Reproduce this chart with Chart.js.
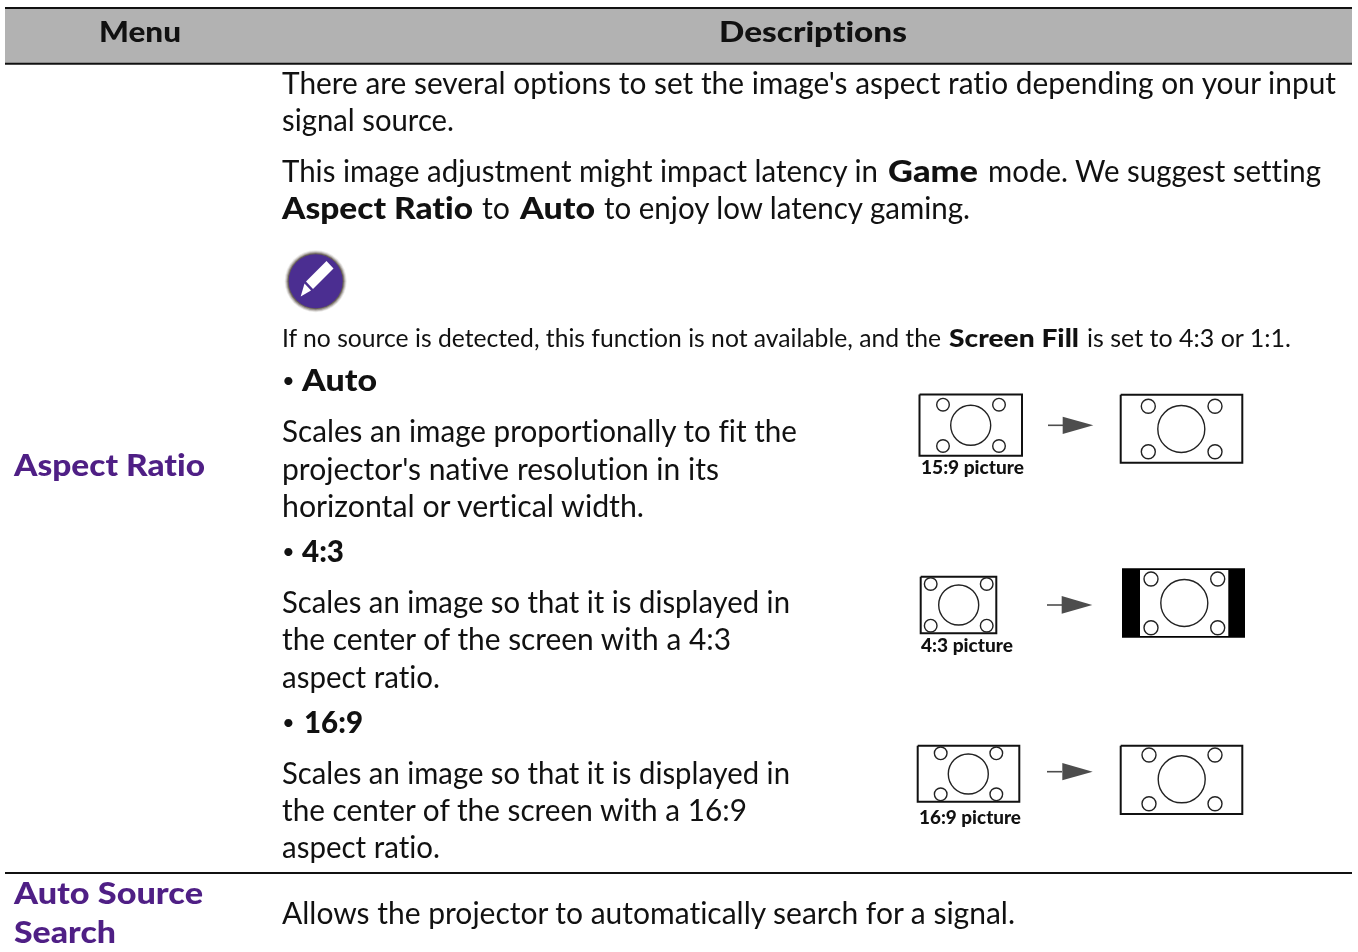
<!DOCTYPE html>
<html><head><meta charset="utf-8">
<script src="https://cdn.jsdelivr.net/npm/chart.js@4"></script>
<style>
html,body{margin:0;padding:0;background:#fff;width:1358px;height:952px;overflow:hidden}
#wrap{position:relative;width:1358px;height:952px}
canvas{position:absolute;left:0;top:0}
.t{position:absolute;white-space:pre;font-family:Lato,sans-serif;line-height:1.2;color:#111;transform-origin:0 0;font-variant-ligatures:none;font-feature-settings:"liga" 0}
</style></head><body>
<div id="wrap"><canvas id="c" width="1358" height="952"></canvas></div>
<script>
// Values (page pixels)
const headerBand=[[5,8.7],[1352,8.7],[1352,63],[5,63]];
const ruleLines=[[[5,8],[1352,8]],[[5,63.7],[1352,63.7]],[[5,873],[1352,873]]];
const frames=[
 [[919.5,394.5],[1022,394.5],[1022,455.7],[919.5,455.7]],
 [[1120.7,394.7],[1242.3,394.7],[1242.3,462.7],[1120.7,462.7]],
 [[920.7,576.7],[996.3,576.7],[996.3,633.3],[920.7,633.3]],
 [[917.7,745.7],[1019.3,745.7],[1019.3,801.7],[917.7,801.7]],
 [[1120.7,745.7],[1242.3,745.7],[1242.3,814],[1120.7,814]]
];
const letterboxOuter=[[1122,568.3],[1245,568.3],[1245,637.7],[1122,637.7]];
const letterboxInner=[[1140,570],[1228.3,570],[1228.3,636],[1140,636]];
const smallCircles=[
 [943,404.7],[999,404.7],[943,446],[999,446],
 [930.7,584],[986.7,584],[930.7,625.7],[986.7,625.7],
 [940.7,753.3],[996.3,753.3],[940.7,794.3],[996.3,794.3]
];
const mediumCircles=[
 [1148.3,406.3],[1215,406.3],[1148.3,451.7],[1215,451.7],
 [1151,579],[1217.7,579],[1151,627.7],[1217.7,627.7],
 [1149,755],[1215,755],[1149,803.7],[1215,803.7]
];
const bigCirclesLeft=[[970.7,425.3],[958.7,605],[968.3,774]];
const bigCirclesRight=[[1181.3,429],[1184.3,603],[1181.7,779.3]];
const arrowShafts=[[[1048,425.3],[1063,425.3]],[[1047,605],[1062,605]],[[1047,771.7],[1062,771.7]]];
const arrowHeads=[
 [[1062.7,416.7],[1093.3,425.3],[1062.7,434]],
 [[1061.7,596],[1092.3,605],[1061.7,613.7]],
 [[1062.3,763],[1092.7,771.7],[1062.3,780.3]]
];
const iconCentre=[[315.7,281.2]];
const pencilBody=[[306,281.5],[326.5,261],[333.5,268.5],[313,289]];
const pencilTip=[[304.5,283.5],[311,290.5],[300.7,296.5]];

// [text, left, right, baseline, size, weight, colour]
const ink='#111', purple='#4f1f85';
const textRuns=[
 ['Menu',99,181,42.5,29,900,ink],
 ['Descriptions',719,907,42.5,29,900,ink],
 ["There are several options to set the image's aspect ratio depending on your input",282,1336,94,30,400,ink],
 ['signal source.',282,454,131,30,400,ink],
 ['This image adjustment might impact latency in',282,878,182,30,400,ink],
 ['Game',888,978,182,30,900,ink],
 ['mode. We suggest setting',988,1321,182,30,400,ink],
 ['Aspect Ratio',282,473,219,30,900,ink],
 ['to',482,510,219,30,400,ink],
 ['Auto',520,595,219,30,900,ink],
 ['to enjoy low latency gaming.',604,970,219,30,400,ink],
 ['If no source is detected, this function is not available, and the',282,941,347,25,400,ink],
 ['Screen Fill',949,1079,347,25,900,ink],
 ['is set to 4:3 or 1:1.',1087,1291,347,25,400,ink],
 ['•',282,293,389,22,400,ink],['Auto',302,377,391,30,900,ink],
 ['Scales an image proportionally to fit the',282,797,442,30,400,ink],
 ["projector's native resolution in its",282,719,480,30,400,ink],
 ['horizontal or vertical width.',282,644,517,30,400,ink],
 ['•',282,293,560,22,400,ink],['4:3',302,344,562,30,900,ink],
 ['Scales an image so that it is displayed in',282,790,613,30,400,ink],
 ['the center of the screen with a 4:3',282,731,650,30,400,ink],
 ['aspect ratio.',282,440,688,30,400,ink],
 ['•',282,293,731,22,400,ink],['16:9',304,363,733,30,900,ink],
 ['Scales an image so that it is displayed in',282,790,784,30,400,ink],
 ['the center of the screen with a 16:9',282,747,821,30,400,ink],
 ['aspect ratio.',282,440,858,30,400,ink],
 ['Allows the projector to automatically search for a signal.',282,1015,924,30,400,ink],
 ['Aspect Ratio',14,205,476,30,900,purple],
 ['Auto Source',14,203,904,30,900,purple],
 ['Search',14,116,943,30,900,purple],
 ['15:9 picture',921,1024,474,18.5,900,ink],
 ['4:3 picture',921,1013,652,18.5,900,ink],
 ['16:9 picture',919,1021,824,18.5,900,ink]
];

const pts=a=>a.map(p=>({x:p[0],y:p[1]}));
const close=a=>pts(a.concat([a[0]]));
const ds=[];
const poly=(a,fillCol)=>ds.push({data:close(a),showLine:true,tension:0,borderWidth:0,borderColor:fillCol,backgroundColor:fillCol,fill:'shape',pointRadius:0});
const path=(a,col,w)=>ds.push({data:pts(a),showLine:true,tension:0,borderWidth:w,borderColor:col,fill:false,pointRadius:0});
const circles=(a,r,w,fillCol,edge)=>ds.push({data:pts(a),showLine:false,pointRadius:r,pointHoverRadius:r,pointBorderWidth:w,pointBackgroundColor:fillCol,pointBorderColor:edge});

poly(headerBand,'#b2b2b2');
ruleLines.forEach(l=>path(l,'#111',2));
frames.forEach(f=>ds.push({data:close(f),showLine:true,tension:0,borderWidth:2,borderColor:'#111',fill:false,pointRadius:0,borderJoinStyle:'miter'}));
poly(letterboxOuter,'#000');poly(letterboxInner,'#fff');
circles(smallCircles,6.3,1.4,'#fff','#222');
circles(mediumCircles,7,1.4,'#fff','#222');
circles(bigCirclesLeft,20,1.4,'#fff','#222');
circles(bigCirclesRight,23.5,1.4,'#fff','#222');
arrowShafts.forEach(l=>path(l,'#4d4d4d',1.6));
arrowHeads.forEach(h=>poly(h,'#4d4d4d'));
circles(iconCentre,31,0,'rgba(90,80,70,.12)','rgba(0,0,0,0)');
circles(iconCentre,30,0,'rgba(90,80,70,.25)','rgba(0,0,0,0)');
circles(iconCentre,29,0,'rgba(80,70,60,.4)','rgba(0,0,0,0)');
circles(iconCentre,28,0,'rgba(70,60,50,.6)','rgba(0,0,0,0)');
circles(iconCentre,27,0,'#4b2e91','rgba(0,0,0,0)');
poly(pencilBody,'#fff');poly(pencilTip,'#fff');
ds.forEach((d,i)=>d.order=-i);

new Chart(document.getElementById('c'),{
 type:'scatter',data:{datasets:ds},
 options:{responsive:false,animation:false,events:[],layout:{padding:0,autoPadding:false},
  plugins:{legend:{display:false},tooltip:{enabled:false},title:{display:false}},
  scales:{x:{type:'linear',min:0,max:1358,display:false},y:{type:'linear',min:0,max:952,reverse:true,display:false}}}
});

const wrap=document.getElementById('wrap');
textRuns.forEach(([s,l,r,b,size,weight,col])=>{
 const e=document.createElement('div');e.className='t';e.textContent=s;
 e.style.cssText=`left:${l}px;top:${b-0.987*size}px;font-size:${size}px;font-weight:${weight};color:${col}`;
 wrap.appendChild(e);
 if(s!=='•'){
  const w=e.getBoundingClientRect().width;
  e.style.transform=`scaleX(${(r-l)/w})`;
 }
});
</script></body></html>
